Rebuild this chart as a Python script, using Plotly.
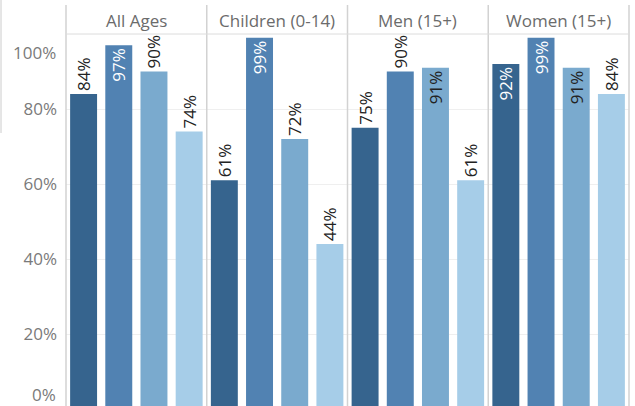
import plotly.graph_objects as go
from plotly.subplots import make_subplots

panels = ["All Ages", "Children (0-14)", "Men (15+)", "Women (15+)"]
groups = ["Group 1", "Group 2", "Group 3", "Group 4"]
all_ages = [0.84, 0.97, 0.90, 0.74]
children = [0.61, 0.99, 0.72, 0.44]
men = [0.75, 0.90, 0.91, 0.61]
women = [0.92, 0.99, 0.91, 0.84]
values = [all_ages, children, men, women]

y_ticks = [0.2, 0.4, 0.6, 0.8]
y_ticktext = ["20%", "40%", "60%", "80%"]
end_ticks = [(0.0, "0%"), (1.0, "100%")]

colors = ["#36648E", "#5182B2", "#7AAACE", "#A6CDE8"]
text_colors = ["#ffffff", "#ffffff", "#222222", "#222222"]
inside = [
    [False, True, False, False],
    [False, True, False, False],
    [False, False, True, False],
    [True, True, True, False],
]

FONT = "Open Sans"
FS = 17
W, H = 635, 406
L, R, T = 66, 6, 34
PW = W - L - R
PH = H - T

fig = make_subplots(rows=1, cols=4, horizontal_spacing=0, shared_yaxes=True)

for i, (panel, vals) in enumerate(zip(panels, values)):
    pos = ["inside" if f else "outside" for f in inside[i]]
    tcol = [text_colors[j] if inside[i][j] else "#222222" for j in range(4)]
    fig.add_trace(
        go.Bar(
            x=groups,
            y=vals,
            marker=dict(color=colors, line=dict(width=0)),
            text=[f"{round(v*100)}%" for v in vals],
            textposition=pos,
            insidetextanchor="end",
            textangle=-90,
            textfont=dict(family=FONT, size=FS, color=tcol),
            constraintext="none",
            cliponaxis=False,
            showlegend=False,
            hovertemplate=panel + "<br>%{x}: %{y:.0%}<extra></extra>",
        ),
        row=1, col=i + 1,
    )
    fig.update_xaxes(
        row=1, col=i + 1,
        showticklabels=False, showgrid=False, zeroline=False,
        range=[-0.5, 3.5], fixedrange=True,
    )
    fig.add_annotation(
        text=panel, xref="paper", yref="paper",
        x=(i + 0.5) / 4, y=1, xanchor="center", yanchor="middle", yshift=14,
        showarrow=False, font=dict(family=FONT, size=FS, color="#6b6b6b"),
    )

ybottom = 1.0 - PH / 375.0
fig.update_yaxes(
    range=[ybottom, 1.0], tickvals=y_ticks, ticktext=y_ticktext,
    showgrid=True, gridcolor="#efefef", gridwidth=1, zeroline=False,
    ticks="", ticklabelstandoff=8,
    tickfont=dict(family=FONT, size=FS, color="#7a7a7a"),
    showline=False,
)
for yv, lab in end_ticks:
    fig.add_annotation(
        text=lab, xref="paper", yref="y", x=0, y=max(yv, ybottom),
        xanchor="right", yanchor="bottom" if yv == 0 else "top",
        xshift=-8, yshift=(-2 if yv == 0 else -5),
        showarrow=False, font=dict(family=FONT, size=FS, color="#7a7a7a"),
    )

shapes = []
ytop_sep = (H - 5) / PH
for k in range(5):
    shapes.append(dict(type="line", xref="paper", yref="paper",
                       x0=k / 4, x1=k / 4, y0=0, y1=ytop_sep,
                       line=dict(color="#d2d2d2", width=1.5)))
shapes.append(dict(type="line", xref="paper", yref="paper",
                   x0=0, x1=1, y0=1, y1=1,
                   line=dict(color="#dcdcdc", width=1)))
shapes.append(dict(type="line", xref="paper", yref="paper",
                   x0=(1 - L) / PW, x1=(1 - L) / PW, y0=(H - 133) / PH, y1=H / PH,
                   line=dict(color="#cccccc", width=1)))

fig.update_layout(
    width=W, height=H,
    margin=dict(l=L, r=R, t=T, b=0, autoexpand=False),
    bargap=0.234,
    plot_bgcolor="white", paper_bgcolor="white",
    shapes=shapes,
    font=dict(family=FONT),
)

fig.write_html("out.html", config={"displayModeBar": False},
               post_script="document.body.style.margin='0px';document.body.style.overflow='hidden';")
